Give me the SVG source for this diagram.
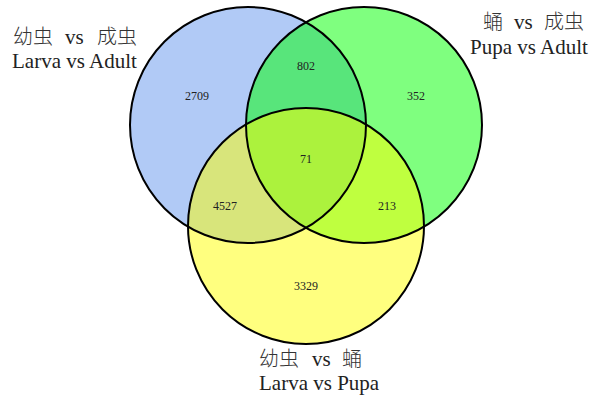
<svg xmlns="http://www.w3.org/2000/svg" width="590" height="399" viewBox="0 0 590 399">
<style>
.lbl{font-family:"Liberation Serif","Noto Sans CJK SC",serif;font-size:21px;fill:#222}
.cjk{font-family:"Noto Sans CJK SC","Liberation Serif",sans-serif;font-size:20px;font-weight:300;fill:#333}
.num{font-family:"Liberation Serif",serif;font-size:12px;fill:#222;text-anchor:middle}
.ring{fill:none;stroke:#000;stroke-width:2}
</style>
<rect width="590" height="399" fill="#fff"/>
<g id="fills">
<circle cx="248" cy="125" r="118" fill="#6495ED" fill-opacity="0.5"/>
<circle cx="364" cy="125" r="118" fill="#00FF00" fill-opacity="0.5"/>
<circle cx="306" cy="226" r="118" fill="#FFFF00" fill-opacity="0.5"/>
</g>
<g id="set-larva-adult">
<circle class="ring" cx="248" cy="125" r="118"/>
<text y="44"><tspan class="cjk" x="13">幼虫</tspan><tspan class="lbl" x="65">vs</tspan><tspan class="cjk" x="97">成虫</tspan></text>
<text class="lbl" x="12" y="68">Larva vs Adult</text>
</g>
<g id="set-pupa-adult">
<circle class="ring" cx="364" cy="125" r="118"/>
<text y="29"><tspan class="cjk" x="483">蛹</tspan><tspan class="lbl" x="514">vs</tspan><tspan class="cjk" x="544">成虫</tspan></text>
<text class="lbl" x="470" y="54">Pupa vs Adult</text>
</g>
<g id="set-larva-pupa">
<circle class="ring" cx="306" cy="226" r="118"/>
<text y="366"><tspan class="cjk" x="259">幼虫</tspan><tspan class="lbl" x="312">vs</tspan><tspan class="cjk" x="342">蛹</tspan></text>
<text class="lbl" x="259" y="390">Larva vs Pupa</text>
</g>
<g id="counts">
<text class="num" x="197" y="100">2709</text>
<text class="num" x="306" y="70">802</text>
<text class="num" x="416" y="100">352</text>
<text class="num" x="306" y="163">71</text>
<text class="num" x="225" y="210">4527</text>
<text class="num" x="387" y="210">213</text>
<text class="num" x="306" y="290">3329</text>
</g>
<g id="connectors"></g>
</svg>
